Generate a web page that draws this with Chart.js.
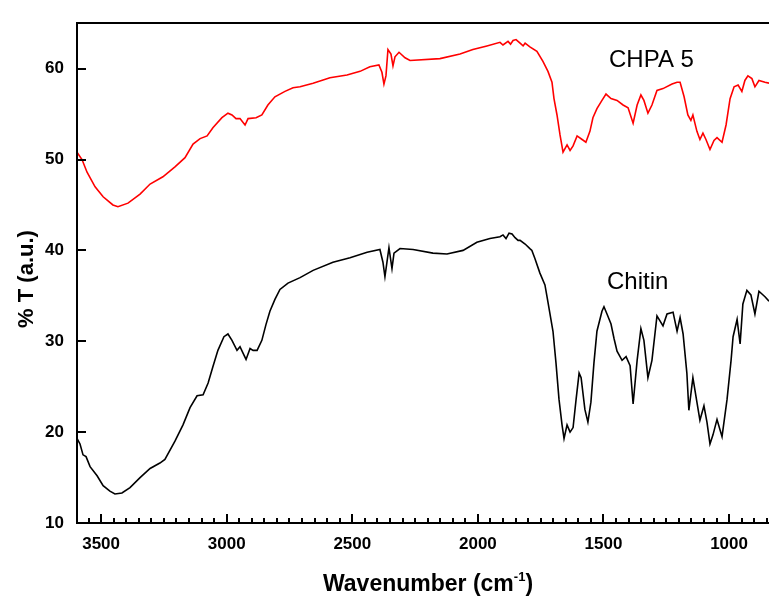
<!DOCTYPE html>
<html>
<head>
<meta charset="utf-8">
<script src="https://cdn.jsdelivr.net/npm/chart.js@4.4.1/dist/chart.umd.min.js"></script>
<style>
  html, body { margin: 0; padding: 0; background: #fff; overflow: hidden; }
  #wrap { width: 769px; height: 597px; position: relative; }
</style>
</head>
<body>
<div id="wrap"><canvas id="ftir"></canvas></div>
<script>
// wavenumbers (cm-1) and %T
const chpaWn = [3596, 3576, 3556, 3524, 3492, 3453, 3433, 3393, 3345, 3305, 3254, 3206, 3166, 3134, 3106, 3078, 3055, 3019, 2995, 2979,
  2963, 2947, 2927, 2915, 2883, 2860, 2836, 2808, 2768, 2736, 2708, 2656, 2589, 2521, 2469, 2430, 2394, 2382, 2374, 2366,
  2358, 2346, 2338, 2330, 2314, 2290, 2270, 2151, 2071, 2020, 1964, 1912, 1900, 1880, 1870, 1860, 1848, 1832, 1820, 1812,
  1793, 1765, 1741, 1721, 1705, 1697, 1685, 1673, 1661, 1645, 1633, 1621, 1605, 1585, 1570, 1554, 1542, 1526, 1506, 1490,
  1470, 1446, 1422, 1402, 1382, 1366, 1351, 1339, 1323, 1307, 1287, 1263, 1227, 1207, 1195, 1179, 1164, 1152, 1144, 1128,
  1116, 1104, 1092, 1076, 1060, 1048, 1028, 1012, 996, 980, 964, 949, 937, 925, 909, 897, 881, 857, 841];
const chpaT = [50.8, 50.0, 48.6, 47.0, 45.9, 45.0, 44.8, 45.2, 46.2, 47.3, 48.1, 49.2, 50.2, 51.7, 52.3, 52.6, 53.5, 54.6, 55.1, 54.9,
  54.5, 54.5, 53.8, 54.5, 54.6, 54.9, 56.0, 56.9, 57.5, 57.9, 58.0, 58.4, 59.0, 59.3, 59.7, 60.2, 60.4, 59.6, 58.3, 59.2,
  62.1, 61.6, 60.3, 61.3, 61.8, 61.2, 60.9, 61.1, 61.6, 62.1, 62.5, 62.9, 62.6, 63.0, 62.7, 63.1, 63.2, 62.8, 62.5, 62.8,
  62.4, 61.9, 60.8, 59.7, 58.5, 56.7, 54.9, 52.7, 50.8, 51.6, 51.0, 51.5, 52.6, 52.2, 51.9, 53.1, 54.6, 55.6, 56.5, 57.2,
  56.7, 56.5, 56.0, 55.7, 54.0, 56.0, 57.1, 56.5, 55.1, 56.0, 57.6, 57.8, 58.3, 58.5, 58.5, 56.9, 54.9, 54.3, 54.9, 53.1,
  52.2, 52.9, 52.2, 51.1, 52.1, 52.4, 51.9, 53.8, 56.7, 58.0, 58.2, 57.5, 58.7, 59.2, 58.9, 58.0, 58.7, 58.5, 58.4];

const chitinWn = [3596, 3584, 3572, 3560, 3544, 3516, 3492, 3465, 3445, 3417, 3385, 3345, 3305, 3266, 3246, 3206, 3174, 3146, 3118, 3094,
  3074, 3055, 3035, 3011, 2995, 2979, 2959, 2947, 2935, 2923, 2907, 2895, 2879, 2860, 2844, 2828, 2808, 2788, 2756, 2708,
  2656, 2577, 2509, 2441, 2390, 2378, 2370, 2362, 2354, 2342, 2334, 2310, 2258, 2179, 2123, 2059, 2004, 1952, 1912, 1900,
  1888, 1876, 1864, 1852, 1840, 1832, 1812, 1793, 1785, 1773, 1753, 1733, 1721, 1701, 1689, 1677, 1665, 1657, 1645, 1633,
  1621, 1609, 1597, 1589, 1574, 1562, 1550, 1538, 1526, 1506, 1498, 1486, 1470, 1458, 1446, 1426, 1410, 1394, 1382, 1366,
  1351, 1339, 1323, 1307, 1287, 1263, 1247, 1223, 1207, 1195, 1183, 1168, 1160, 1144, 1128, 1116, 1100, 1088, 1076, 1064,
  1048, 1028, 1008, 992, 984, 968, 956, 945, 929, 913, 897, 881, 857, 841];
const chitinT = [19.3, 18.7, 17.5, 17.3, 16.2, 15.2, 14.1, 13.5, 13.2, 13.3, 13.9, 15.0, 16.0, 16.6, 17.0, 19.0, 20.8, 22.7, 24.0, 24.1,
  25.4, 27.2, 29.0, 30.5, 30.8, 30.1, 29.0, 29.4, 28.7, 28.0, 29.2, 29.0, 29.0, 30.1, 31.8, 33.3, 34.6, 35.7, 36.4, 37.0,
  37.8, 38.7, 39.2, 39.8, 40.1, 38.7, 37.1, 38.7, 40.3, 38.0, 39.7, 40.2, 40.1, 39.7, 39.6, 40.0, 40.9, 41.3, 41.5, 41.7,
  41.3, 41.9, 41.8, 41.4, 41.1, 41.1, 40.7, 40.2, 40.0, 39.1, 37.5, 36.2, 34.3, 31.1, 27.6, 23.6, 20.8, 19.3, 20.8, 20.0,
  20.5, 23.6, 26.5, 26.0, 22.5, 21.1, 23.3, 27.6, 31.1, 33.3, 33.8, 33.0, 31.9, 30.3, 28.9, 27.9, 28.3, 27.3, 23.1, 27.9,
  31.4, 30.1, 26.0, 27.9, 32.8, 31.7, 33.0, 33.2, 31.1, 32.6, 30.8, 26.5, 22.4, 26.0, 23.3, 21.3, 22.9, 21.1, 18.7, 19.7,
  21.4, 19.5, 23.6, 27.9, 30.5, 32.4, 29.7, 34.1, 35.6, 35.1, 33.0, 35.5, 34.9, 34.4];

const seriesNames = ["CHPA 5", "Chitin"];
const seriesColors = ["#ff0000", "#000000"];
const xTicks = [3500, 3000, 2500, 2000, 1500, 1000];
const yTicks = [10, 20, 30, 40, 50, 60];

// where the curve names sit (wavenumber, %T at text baseline)
const nameAt = [[1478, 60.2], [1486, 35.7]];

const FONT = "Arial, 'Liberation Sans', sans-serif";

const toPts = (wn, t) => wn.map((x, i) => ({ x, y: t[i] }));

const framePlugin = {
  id: "frame",
  afterDraw(chart) {
    const { ctx, chartArea: a } = chart;
    const xs = chart.scales.x, ys = chart.scales.y;
    const bottom = Math.round(a.bottom), left = Math.round(a.left), top = Math.round(a.top);
    ctx.save();
    ctx.strokeStyle = "#000";
    ctx.lineWidth = 2;
    ctx.beginPath();
    ctx.moveTo(a.right, top);
    ctx.lineTo(left, top);
    ctx.lineTo(left, bottom);
    ctx.lineTo(a.right, bottom);
    ctx.stroke();

    // y ticks, pointing in
    ctx.beginPath();
    yTicks.forEach((v) => {
      const py = Math.round(ys.getPixelForValue(v));
      ctx.moveTo(left, py);
      ctx.lineTo(left + 9, py);
    });
    ctx.stroke();

    // x ticks, pointing up
    ctx.beginPath();
    for (let v = 3550; v >= 850; v -= 50) {
      const px = Math.round(xs.getPixelForValue(v));
      const len = v % 500 === 0 ? 9 : 5;
      ctx.moveTo(px, bottom);
      ctx.lineTo(px, bottom - len);
    }
    ctx.stroke();

    // curve names
    ctx.fillStyle = "#000";
    ctx.font = "24px " + FONT;
    ctx.textBaseline = "alphabetic";
    ctx.textAlign = "left";
    seriesNames.forEach((n, i) => {
      ctx.fillText(n, xs.getPixelForValue(nameAt[i][0]), ys.getPixelForValue(nameAt[i][1]));
    });

    // x title with superscript
    const big = "bold 23px " + FONT, sup = "bold 13px " + FONT;
    const t1 = "Wavenumber (cm", t3 = ")";
    ctx.font = big;
    const w1 = ctx.measureText(t1).width;
    const w3 = ctx.measureText(t3).width;
    ctx.font = sup;
    const w2 = ctx.measureText("-1").width;
    const sx = 428 - (w1 + w2 + w3) / 2;
    const base = 591;
    ctx.font = big;
    ctx.fillText(t1, sx, base);
    ctx.font = sup;
    ctx.fillText("-1", sx + w1, base - 10);
    ctx.font = big;
    ctx.fillText(t3, sx + w1 + w2, base);

    // y title
    ctx.save();
    ctx.translate(33, 279);
    ctx.rotate(-Math.PI / 2);
    ctx.textAlign = "center";
    ctx.font = "bold 22px " + FONT;
    ctx.fillText("% T (a.u.)", 0, 0);
    ctx.restore();
    ctx.restore();
  },
};

new Chart(document.getElementById("ftir"), {
  type: "line",
  data: {
    datasets: [
      { label: seriesNames[0], data: toPts(chpaWn, chpaT), borderColor: seriesColors[0] },
      { label: seriesNames[1], data: toPts(chitinWn, chitinT), borderColor: seriesColors[1] },
    ],
  },
  options: {
    responsive: true,
    maintainAspectRatio: false,
    animation: false,
    layout: { padding: { top: 13, right: 0, bottom: 0, left: 0 } },
    elements: {
      line: { borderWidth: 1.6, tension: 0, fill: false },
      point: { radius: 0 },
    },
    plugins: { legend: { display: false }, tooltip: { enabled: false } },
    scales: {
      x: {
        type: "linear",
        reverse: true,
        min: 841,
        max: 3596,
        grid: { display: false, drawTicks: false },
        border: { display: false },
        ticks: {
          color: "#000", font: { family: FONT, size: 17, weight: "bold" }, padding: 11, maxRotation: 0,
          callback: (v) => String(v),
        },
        afterBuildTicks: (s) => { s.ticks = xTicks.map((v) => ({ value: v })); },
        afterFit: (s) => { s.height = 74; },
      },
      y: {
        min: 10,
        max: 65,
        grid: { display: false, drawTicks: false },
        border: { display: false },
        ticks: { color: "#000", font: { family: FONT, size: 17, weight: "bold" }, padding: 13, callback: (v) => String(v) },
        afterBuildTicks: (s) => { s.ticks = yTicks.map((v) => ({ value: v })); },
        afterFit: (s) => { s.width = 77; },
      },
    },
  },
  plugins: [framePlugin],
});
</script>
</body>
</html>
